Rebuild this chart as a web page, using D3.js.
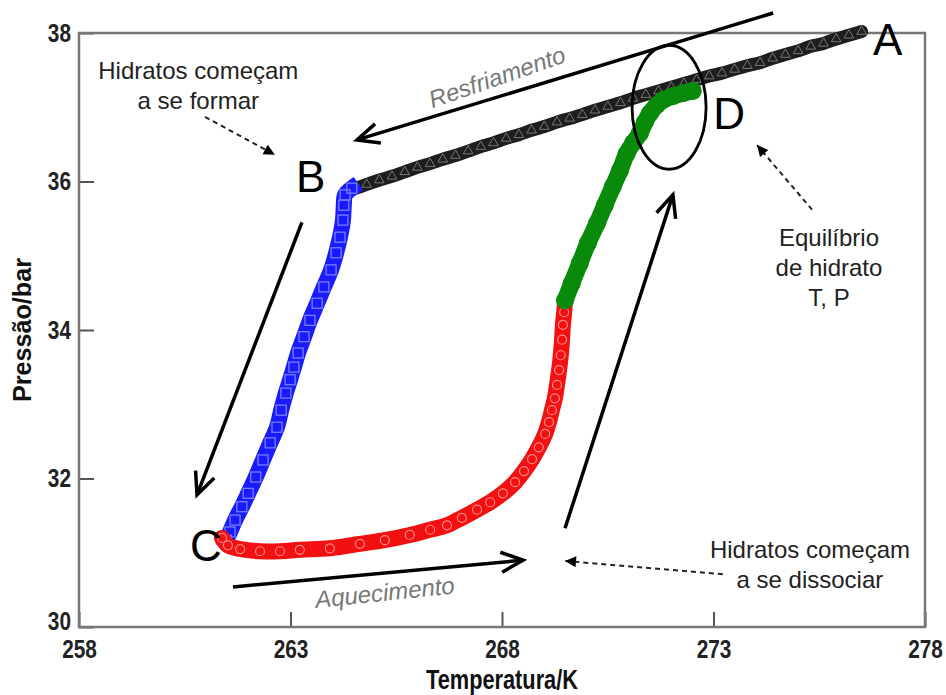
<!DOCTYPE html>
<html>
<head>
<meta charset="utf-8">
<script src="https://cdn.jsdelivr.net/npm/d3@7"></script>
<style>
  body { margin: 0; background: #fff; }
  text { font-family: "Liberation Sans", Arial, sans-serif; }
  .tick text { font-weight: bold; font-size: 26px; fill: #222; }
</style>
</head>
<body>
<svg id="chart" width="946" height="695"></svg>
<script>
// Axis ticks
const xTicks = [258, 263, 268, 273, 278];
const yTicks = [30, 32, 34, 36, 38];

// Cooling path A -> B (gas phase, no hydrate yet)
const coolT = [276.5, 276.2, 275.9, 275.6, 275.3, 275.0, 274.7, 274.4, 274.1, 273.8, 273.5, 273.2, 272.9, 272.6,
  272.3, 272.0, 271.7, 271.4, 271.1, 270.8, 270.5, 270.2, 269.9, 269.6, 269.3, 269.0, 268.7, 268.4, 268.1, 267.8,
  267.5, 267.2, 266.9, 266.6, 266.3, 266.0, 265.7, 265.4, 265.1, 264.8, 264.5];
const coolP = [38.02, 37.97, 37.92, 37.86, 37.82, 37.76, 37.71, 37.66, 37.60, 37.56, 37.51, 37.46, 37.42, 37.37,
  37.32, 37.27, 37.22, 37.17, 37.12, 37.06, 37.01, 36.96, 36.90, 36.85, 36.80, 36.74, 36.69, 36.63, 36.58, 36.52,
  36.47, 36.41, 36.35, 36.30, 36.24, 36.19, 36.13, 36.07, 36.02, 35.96, 35.90];

// Hydrate formation B -> C
const formT = [264.45, 264.29, 264.26, 264.24, 264.17, 264.08, 263.96, 263.79, 263.63, 263.46, 263.32, 263.18,
  263.08, 262.99, 262.89, 262.78, 262.68, 262.52, 262.35, 262.18, 262.00, 261.85, 261.69, 261.57, 261.48];
const formP = [35.91, 35.82, 35.68, 35.48, 35.25, 35.04, 34.81, 34.58, 34.36, 34.13, 33.91, 33.69,
  33.50, 33.33, 33.15, 32.92, 32.69, 32.48, 32.25, 32.02, 31.80, 31.62, 31.44, 31.28, 31.17];

// Heating C -> start of dissociation
const heatT = [261.38, 261.52, 261.81, 262.28, 262.75, 263.22, 263.93, 264.64, 265.23, 265.82, 266.30, 266.70,
  267.05, 267.41, 267.72, 268.02, 268.31, 268.52, 268.71, 268.87, 269.02, 269.11, 269.18, 269.25, 269.30,
  269.35, 269.39, 269.42, 269.44, 269.47, 269.49];
const heatP = [31.20, 31.10, 31.05, 31.02, 31.02, 31.04, 31.06, 31.12, 31.17, 31.24, 31.31, 31.37,
  31.47, 31.58, 31.68, 31.80, 31.95, 32.10, 32.26, 32.42, 32.60, 32.76, 32.92, 33.08, 33.26,
  33.46, 33.66, 33.87, 34.07, 34.24, 34.40];

// Dissociation -> D (equilibrium point)
const dissT = [269.49, 269.65, 269.84, 270.03, 270.25, 270.43, 270.62, 270.79, 270.95, 271.10, 271.26, 271.38,
  271.50, 271.66, 271.81, 272.04, 272.28, 272.51];
const dissP = [34.40, 34.63, 34.90, 35.17, 35.44, 35.68, 35.93, 36.15, 36.38, 36.52, 36.65, 36.80,
  36.92, 37.03, 37.10, 37.15, 37.19, 37.22];

const svg = d3.select("#chart");
const x = d3.scaleLinear().domain([258, 278]).range([79, 925]);
const y = d3.scaleLinear().domain([30, 38]).range([627, 33]);

const zip = (a, b) => a.map((v, i) => [v, b[i]]);
const line = d3.line().x(d => x(d[0])).y(d => y(d[1])).curve(d3.curveCatmullRom);

// Arrowhead definitions
const defs = svg.append("defs");
defs.append("marker").attr("id", "chev")
  .attr("markerUnits", "userSpaceOnUse").attr("orient", "auto")
  .attr("viewBox", "-26 -14 30 28").attr("markerWidth", 30).attr("markerHeight", 28)
  .attr("refX", 0).attr("refY", 0)
  .append("path").attr("d", "M-22,-10 L0,0 L-22,10")
  .attr("fill", "none").attr("stroke", "#000").attr("stroke-width", 3.5);
defs.append("marker").attr("id", "tri")
  .attr("markerUnits", "userSpaceOnUse").attr("orient", "auto")
  .attr("viewBox", "-12 -6 13 12").attr("markerWidth", 13).attr("markerHeight", 12)
  .attr("refX", 0).attr("refY", 0)
  .append("path").attr("d", "M-11,-5.5 L0,0 L-11,5.5 Z").attr("fill", "#000");

// Axes with inward ticks
const xAxis = d3.axisBottom(x).tickValues(xTicks).tickSize(-15).tickPadding(13).tickFormat(d3.format("d"));
const yAxis = d3.axisLeft(y).tickValues(yTicks).tickSize(-15).tickPadding(9).tickFormat(d3.format("d"));
const gx = svg.append("g").attr("transform", `translate(0,${y(30)})`).call(xAxis);
const gy = svg.append("g").attr("transform", `translate(${x(258)},0)`).call(yAxis);
[gx, gy].forEach(g => {
  g.select(".domain").remove();
  g.selectAll(".tick line").attr("stroke", "#555").attr("stroke-width", 2);
});
// condensed bold tick labels; the lowest pressure label sits a little higher to clear the 258 label
gx.selectAll(".tick text").attr("transform", "scale(0.8,1)");
gy.selectAll(".tick text").attr("dy", d => d === 30 ? "0.1em" : "0.32em").attr("x", -10).attr("transform", "scale(0.8,1)");

// Frame
svg.append("rect")
  .attr("x", x(258)).attr("y", y(38))
  .attr("width", x(278) - x(258)).attr("height", y(30) - y(38))
  .attr("fill", "none").attr("stroke", "#777").attr("stroke-width", 2.5);

// Axis titles
svg.append("text").attr("x", (x(258) + x(278)) / 2).attr("y", 689)
  .attr("text-anchor", "middle")
  .attr("textLength", 152).attr("lengthAdjust", "spacingAndGlyphs")
  .style("font-weight", "bold").style("font-size", "28px").attr("fill", "#111")
  .text("Temperatura/K");
svg.append("text")
  .attr("transform", `translate(31,${(y(30) + y(38)) / 2}) rotate(-90)`)
  .attr("text-anchor", "middle")
  .attr("textLength", 144).attr("lengthAdjust", "spacingAndGlyphs")
  .style("font-weight", "bold").style("font-size", "25px").attr("fill", "#111")
  .text("Pressão/bar");

// Data series
const plot = svg.append("g");

// cooling (black, open triangles)
const cool = zip(coolT, coolP);
plot.append("path").datum(cool).attr("d", line)
  .attr("fill", "none").attr("stroke", "#1e1e1e").attr("stroke-width", 13).attr("stroke-linecap", "round");
plot.append("g").selectAll("path").data(cool).join("path")
  .attr("transform", d => `translate(${x(d[0])},${y(d[1])})`)
  .attr("d", d3.symbol(d3.symbolTriangle, 40))
  .attr("fill", "none").attr("stroke", "#777").attr("stroke-width", 1);

// formation (blue, open squares)
const form = zip(formT, formP);
plot.append("path").datum(form).attr("d", line)
  .attr("fill", "none").attr("stroke", "#1a1aff").attr("stroke-width", 16).attr("stroke-linecap", "square");
plot.append("g").selectAll("rect").data(form).join("rect")
  .attr("x", d => x(d[0]) - 5).attr("y", d => y(d[1]) - 5)
  .attr("width", 10).attr("height", 10)
  .attr("fill", "none").attr("stroke", "#7480ff").attr("stroke-width", 1.3);

// heating (red, open circles)
const heat = zip(heatT, heatP);
plot.append("path").datum(heat).attr("d", line)
  .attr("fill", "none").attr("stroke", "#f21010").attr("stroke-width", 16).attr("stroke-linecap", "round");
plot.append("g").selectAll("circle").data(heat).join("circle")
  .attr("cx", d => x(d[0])).attr("cy", d => y(d[1])).attr("r", 4.5)
  .attr("fill", "none").attr("stroke", "#ff8a8a").attr("stroke-width", 1.2);

// dissociation (green, filled circles)
const diss = zip(dissT, dissP);
plot.append("path").datum(diss).attr("d", line)
  .attr("fill", "none").attr("stroke", "#0a8a0a").attr("stroke-width", 17).attr("stroke-linecap", "round");
plot.append("g").selectAll("circle").data(diss).join("circle")
  .attr("cx", d => x(d[0])).attr("cy", d => y(d[1])).attr("r", 9)
  .attr("fill", "#0a8a0a");

// Annotations (positions in data units)
const ann = svg.append("g");
function arrow(t0, p0, t1, p1, head, dashed) {
  const l = ann.append("line")
    .attr("x1", x(t0)).attr("y1", y(p0)).attr("x2", x(t1)).attr("y2", y(p1))
    .attr("stroke", "#000").attr("marker-end", `url(#${head})`);
  if (dashed) l.attr("stroke-width", 2).attr("stroke-dasharray", "5,4").attr("stroke", "#222");
  else l.attr("stroke-width", 3.5);
}
arrow(274.41, 38.27, 264.57, 36.56, "chev", false);   // Resfriamento
arrow(263.27, 35.45, 260.79, 31.78, "chev", false);   // B -> C
arrow(261.64, 30.54, 268.50, 30.90, "chev", false);   // Aquecimento
arrow(269.49, 31.33, 272.04, 35.82, "chev", false);   // up to D
arrow(260.98, 36.87, 262.63, 36.36, "tri", true);
arrow(275.33, 35.62, 274.03, 36.49, "tri", true);
arrow(273.22, 30.71, 269.49, 30.89, "tri", true);

ann.append("ellipse")
  .attr("cx", x(271.95)).attr("cy", y(37.00))
  .attr("rx", x(271.95 + 0.875) - x(271.95)).attr("ry", y(37.00 - 0.835) - y(37.00))
  .attr("fill", "none").attr("stroke", "#000").attr("stroke-width", 2.8);

function letter(t, p, s) {
  ann.append("text").attr("x", x(t)).attr("y", y(p)).attr("dy", "0.36em")
    .attr("text-anchor", "middle").style("font-size", "44px").attr("fill", "#000").text(s);
}
letter(277.12, 37.92, "A");
letter(263.48, 36.07, "B");
letter(261.00, 31.10, "C");
letter(273.37, 36.92, "D");

function note(t, p, lines) {
  lines.forEach((s, i) => {
    ann.append("text").attr("x", x(t)).attr("y", y(p) + i * 30).attr("dy", "0.36em")
      .attr("text-anchor", "middle").style("font-size", "24px").attr("fill", "#222").text(s);
  });
}
note(260.82, 37.50, ["Hidratos começam", "a se formar"]);
note(275.73, 35.25, ["Equilíbrio", "de hidrato", "T, P"]);
note(275.28, 31.04, ["Hidratos começam", "a se dissociar"]);

function slanted(t, p, angle, s) {
  ann.append("text")
    .attr("transform", `translate(${x(t)},${y(p)}) rotate(${angle})`)
    .attr("dy", "0.36em").attr("text-anchor", "middle")
    .style("font-size", "24px").style("font-style", "italic").attr("fill", "#777").text(s);
}
slanted(267.88, 37.41, -19, "Resfriamento");
slanted(265.23, 30.47, -6, "Aquecimento");
</script>
</body>
</html>
